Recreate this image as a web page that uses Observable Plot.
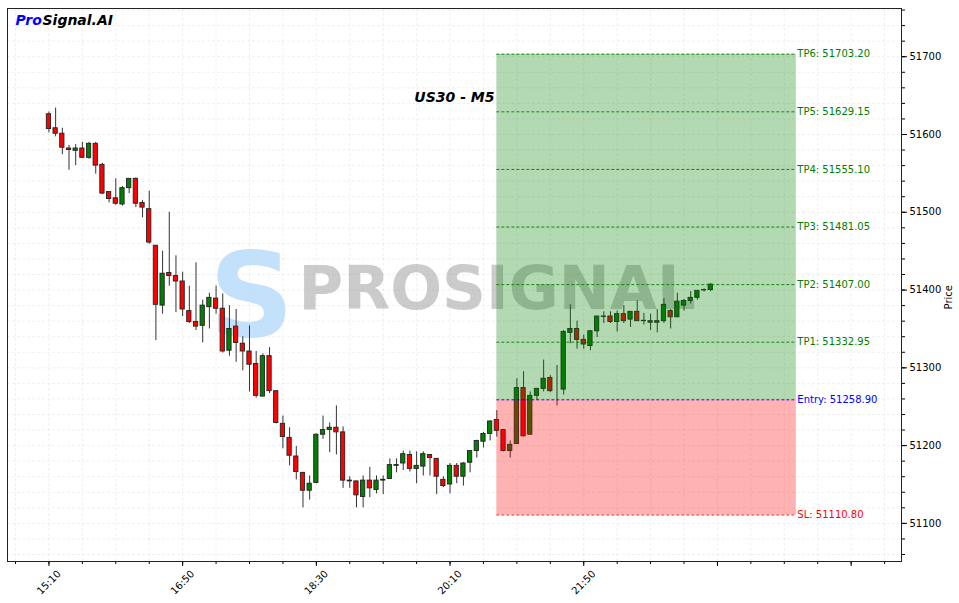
<!DOCTYPE html>
<html><head><meta charset="utf-8">
<script src="https://cdn.jsdelivr.net/npm/d3@7"></script>
<script src="https://cdn.jsdelivr.net/npm/@observablehq/plot@0.6"></script>
<style>body{margin:0;background:#fff;} svg{display:block;}</style>
</head><body><div id="chart"></div>
<script>
// ---- data ----
const startTime = "2024-01-01T15:10:00Z"; // first candle, 5-minute bars
const open  = [51626,51608,51601,51582,51579,51582,51570,51588,51561,51526,51518,51510,51531,51543,51512,51504,51457,51380,51422,51418,51411,51373,51359,51354,51378,51389,51376,51322,51353,51331,51321,51305,51263,51315,51270,51228,51210,51186,51165,51142,51152,51214,51220,51223,51217,51155,51154,51134,51155,51143,51155,51157,51174,51177,51188,51170,51173,51188,51183,51156,51150,51174,51160,51178,51193,51205,51215,51233,51220,51193,51202,51274,51214,51264,51273,51287,51272,51272,51345,51350,51336,51328,51347,51366,51366,51359,51369,51362,51372,51360.5,51360,51358,51360,51373,51365,51380,51386,51390,51399.5,51400];
const high  = [51629,51634,51608,51586,51587,51590,51590,51590,51563,51526,51543,51533,51543,51544,51515,51527,51457,51450,51500,51444,51423,51405,51435,51387,51396,51405,51395,51380,51375,51340,51354,51321,51318,51326,51270,51238,51223,51199,51165,51161,51215,51238,51229,51251,51224,51160,51154,51161,51172,51161,51161,51183,51183,51193,51193,51192,51192,51188,51183,51160,51177,51177,51178,51193,51207,51217,51232,51245,51220,51206,51286,51295,51269,51273,51310,51290,51303,51348,51381,51360,51342,51348,51366,51372,51372,51373,51380,51372,51386,51370,51369,51375,51389,51375,51396,51388,51398,51399,51401.5,51408];
const low   = [51602,51597,51574,51554,51560,51570,51568,51549,51523,51512,51509,51508,51524,51506,51493,51459,51335,51369,51405,51371,51366,51357,51348,51332,51350,51369,51319,51315,51307,51296,51269,51261,51263,51267,51228,51196,51174,51156,51120,51130,51151,51208,51191,51188,51145,51145,51120,51120,51133,51138,51137,51157,51165,51168,51166,51151,51161,51161,51137,51146,51138,51151,51148,51165,51184,51197,51206,51211,51192,51184,51202,51211,51214,51258,51269,51268,51251,51265,51331,51324,51324,51322,51339,51357,51357,51346,51357,51352,51360,51355,51348,51345,51357,51350,51365,51373,51382,51387,51397.5,51398];
const close = [51607,51601,51583,51580,51582,51570,51588,51560,51524,51517,51511,51531,51543,51511,51506,51461,51381,51421,51418,51411,51375,51359,51353,51380,51390,51376,51321,51350,51332,51321,51304,51264,51315,51270,51229,51211,51187,51166,51142,51151,51214,51220,51223,51217,51155,51154,51136,51155,51145,51155,51156,51175,51175,51189,51170,51174,51189,51184,51160,51148,51174,51160,51177,51193,51206,51215,51231,51219,51193,51201,51274,51212,51264,51273,51286,51270,51272,51346,51350,51336,51330,51347,51366,51365.5,51359,51369,51360,51372,51360,51360,51358,51360,51381,51365,51385,51386,51390,51399,51400,51407];

const levelNames  = ["SL","Entry","TP1","TP2","TP3","TP4","TP5","TP6"];
const levelValues = [51110.80,51258.90,51332.95,51407.00,51481.05,51555.10,51629.15,51703.20];
const zoneStart = "2024-01-01T20:45:00Z";
const zoneEnd   = "2024-01-02T00:29:00Z";

const xTickTimes  = ["2024-01-01T15:10:00Z","2024-01-01T16:50:00Z","2024-01-01T18:30:00Z","2024-01-01T20:10:00Z","2024-01-01T21:50:00Z","2024-01-01T23:30:00Z","2024-01-02T01:10:00Z"];
const xTickLabels = ["15:10","16:50","18:30","20:10","21:50","",""];
const yTicks = [51100,51200,51300,51400,51500,51600,51700];
const titleText = "US30 - M5";
const brandParts = ["Pro","Signal.AI"];
const watermarkText = "PROSIGNAL";

// ---- build ----
const MIN = 60000;
const T0 = Date.parse(startTime);
const candles = open.map((o,i)=>({t:new Date(T0+i*5*MIN), o, h:high[i], l:low[i], c:close[i], up: close[i] >= o}));
const half = 1.6*MIN;
const zS = new Date(zoneStart), zE = new Date(zoneEnd);
const levelColor = n => n === "SL" ? "red" : n === "Entry" ? "blue" : "green";
const levels = levelNames.map((n,i)=>({name:n, value:levelValues[i], color:levelColor(n)}));
const entry = levelValues[1], sl = levelValues[0], tpMax = levelValues[7];
const zones = [{y1:entry, y2:tpMax, fill:"green"},{y1:sl, y2:entry, fill:"red"}];

const majorX = xTickTimes.map(s=>new Date(s));
const xLabels = majorX.map((d,i)=>({t:d, label:xTickLabels[i]})).filter(d=>d.label);
const xDomain = [new Date("2024-01-01T14:39:00Z"), new Date("2024-01-02T01:47:40Z")];
const minorX = [];
for (let t = Date.parse("2024-01-01T14:45:00Z"); t <= +xDomain[1]; t += 25*MIN) minorX.push(new Date(t));
const yDomain = [51051, 51762];
const minorY = d3.range(51060, 51762, 20);

const chart = Plot.plot({
  width: 959, height: 603,
  marginLeft: 7, marginRight: 58, marginTop: 8, marginBottom: 42,
  style: {fontFamily: "DejaVu Sans", fontSize: "10px", color: "#000", background: "#fff"},
  x: {type: "utc", domain: xDomain},
  y: {domain: yDomain},
  color: {type: "identity"},
  marks: [
    Plot.gridX(minorX, {stroke: "#999", strokeOpacity: 0.15, strokeDasharray: "3,2"}),
    Plot.gridY(minorY, {stroke: "#999", strokeOpacity: 0.15, strokeDasharray: "3,2"}),
    // watermark
    Plot.text(["S"], {frameAnchor: "top-left", dx: 244, dy: 290, textAnchor: "middle", lineAnchor: "middle", fontSize: 118, fontWeight: "bold", fill: "#b5dafa", fillOpacity: 0.8}),
    Plot.text([watermarkText], {frameAnchor: "top-left", dx: 291, dy: 281, textAnchor: "start", lineAnchor: "middle", fontSize: 61, fontWeight: "bold", fill: "#8c8c8c", fillOpacity: 0.45}),
    // candles
    Plot.ruleX(candles, {x: "t", y1: "l", y2: "h", stroke: "#333", strokeWidth: 1}),
    Plot.rect(candles, {x1: d=>new Date(+d.t-half), x2: d=>new Date(+d.t+half), y1: d=>Math.min(d.o,d.c), y2: d=>Math.max(d.o,d.c), fill: d=>d.up ? "#008000" : "#ff0000", stroke: "#222", strokeWidth: 0.9}),
    // zones
    Plot.rect(zones, {x1: ()=>zS, x2: ()=>zE, y1: "y1", y2: "y2", fill: "fill", fillOpacity: 0.3}),
    Plot.ruleY(levels, {y: "value", x1: ()=>zS, x2: ()=>zE, stroke: "color", strokeWidth: 0.9, strokeDasharray: "3,2"}),
    Plot.text(levels, {x: ()=>zE, y: "value", text: d=>`${d.name}: ${d.value.toFixed(2)}`, textAnchor: "start", dx: 1, fill: "color", fontSize: 10}),
    // titles
    Plot.text([titleText], {frameAnchor: "top-left", dx: 487, dy: 89, textAnchor: "end", lineAnchor: "middle", fontSize: 14, fontWeight: "bold", fontStyle: "italic", fill: "#000"}),
    Plot.text([brandParts[0]], {frameAnchor: "top-left", dx: 8, dy: 12, textAnchor: "start", lineAnchor: "middle", fontSize: 14, fontWeight: "bold", fontStyle: "italic", fill: "#0000ff"}),
    Plot.text([brandParts[1]], {frameAnchor: "top-left", dx: 35, dy: 12, textAnchor: "start", lineAnchor: "middle", fontSize: 14, fontWeight: "bold", fontStyle: "italic", fill: "#000"}),
    // axes
    Plot.axisX(majorX, {anchor: "bottom", tickSize: 5, tickFormat: ()=>"", label: null}),
    Plot.axisX(minorX, {anchor: "bottom", tickSize: 3, tickFormat: ()=>"", label: null}),
    Plot.text(xLabels, {x: "t", text: "label", frameAnchor: "bottom", dy: 21, rotate: -45, textAnchor: "middle", lineAnchor: "middle", fontSize: 10, fill: "#000"}),
    Plot.axisY(yTicks, {anchor: "right", tickSize: 5, tickPadding: 3, fontSize: 10, label: null, tickFormat: d=>String(d)}),
    Plot.axisY(minorY, {anchor: "right", tickSize: 3, tickFormat: ()=>"", label: null}),
    Plot.text(["Price"], {frameAnchor: "right", dx: 47, rotate: -90, fontSize: 10, fill: "#000"}),
    Plot.frame({stroke: "#222", strokeWidth: 1})
  ]
});
document.getElementById("chart").append(chart);
</script>
</body></html>
